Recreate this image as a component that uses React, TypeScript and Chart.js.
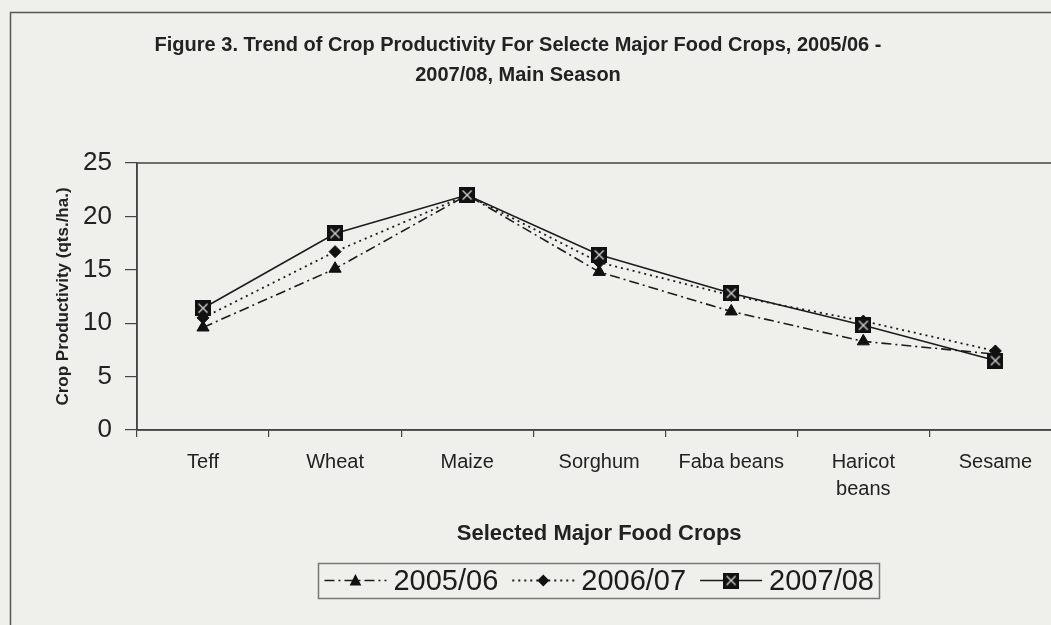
import React, { useEffect, useRef } from "react";
import { Chart, registerables } from "chart.js";

Chart.register(...registerables);

// ---------- data ----------
const categories: (string | string[])[] = [
  "Teff",
  "Wheat",
  "Maize",
  "Sorghum",
  "Faba beans",
  ["Haricot", "beans"],
  "Sesame",
];
const seriesLabels = ["2005/06", "2006/07", "2007/08"];
const values2005: number[] = [9.6, 15.1, 22.0, 14.8, 11.1, 8.3, 7.1];
const values2006: number[] = [10.5, 16.7, 22.0, 15.7, 12.6, 10.2, 7.4];
const values2007: number[] = [11.4, 18.4, 22.0, 16.4, 12.8, 9.8, 6.5];
const yMin = 0;
const yMax = 25;
const yStep = 5;
const titleLines = [
  "Figure 3. Trend of Crop Productivity For Selecte Major Food Crops, 2005/06 -",
  "2007/08, Main Season",
];
const xTitle = "Selected Major Food Crops";
const yTitle = "Crop Productivity (qts./ha.)";

// ---------- style ----------
const BG = "#efefeb";
const INK = "#1c1c1c";
const AXIS = "#444444";
const NARROW = "'Liberation Sans Narrow', 'Arial Narrow', 'Liberation Sans', Arial, sans-serif";
const REGULAR = "'Liberation Sans', Arial, sans-serif";
const CANVAS_W = 1106;
const CANVAS_H = 625;
const CANVAS_LEFT = -35;

function makeSquareX(size: number): HTMLCanvasElement {
  const c = document.createElement("canvas");
  c.width = size;
  c.height = size;
  const g = c.getContext("2d")!;
  g.fillStyle = "#111";
  g.fillRect(0, 0, size, size);
  g.strokeStyle = "#d0d0d0";
  g.lineWidth = 1.4;
  g.beginPath();
  g.moveTo(3.5, 3.5);
  g.lineTo(size - 3.5, size - 3.5);
  g.moveTo(size - 3.5, 3.5);
  g.lineTo(3.5, size - 3.5);
  g.stroke();
  return c;
}

function drawMarker(ctx: CanvasRenderingContext2D, kind: string, x: number, y: number, img?: HTMLCanvasElement) {
  ctx.save();
  ctx.fillStyle = "#111";
  ctx.setLineDash([]);
  if (kind === "triangle") {
    const r = 6.5;
    ctx.beginPath();
    ctx.moveTo(x, y - r);
    ctx.lineTo(x + r * 0.9, y + r * 0.75);
    ctx.lineTo(x - r * 0.9, y + r * 0.75);
    ctx.closePath();
    ctx.fill();
  } else if (kind === "rectRot") {
    const r = 6;
    ctx.beginPath();
    ctx.moveTo(x, y - r);
    ctx.lineTo(x + r, y);
    ctx.lineTo(x, y + r);
    ctx.lineTo(x - r, y);
    ctx.closePath();
    ctx.fill();
  } else if (img) {
    ctx.drawImage(img, x - img.width / 2, y - img.height / 2);
  }
  ctx.restore();
}

export default function App() {
  const canvasRef = useRef<HTMLCanvasElement | null>(null);

  useEffect(() => {
    const canvas = canvasRef.current;
    if (!canvas) return;
    const squareX = makeSquareX(16);
    const markerKinds = ["triangle", "rectRot", "image"];

    const decor = {
      id: "decor",
      beforeDraw(chart: any) {
        const { ctx, width, height } = chart;
        ctx.save();
        ctx.fillStyle = BG;
        ctx.fillRect(0, 0, width, height);
        ctx.strokeStyle = "#555";
        ctx.lineWidth = 1.5;
        ctx.strokeRect(10.5 - CANVAS_LEFT, 12.5, width + 200, height + 200);
        ctx.restore();
      },
      beforeDatasetsDraw(chart: any) {
        const { ctx, chartArea } = chart;
        ctx.save();
        ctx.strokeStyle = AXIS;
        ctx.lineWidth = 1.5;
        ctx.strokeRect(chartArea.left, chartArea.top, chartArea.right - chartArea.left + 40, chartArea.bottom - chartArea.top);
        ctx.restore();
      },
      afterDraw(chart: any) {
        const { ctx, chartArea } = chart;
        const ds = chart.data.datasets;
        ctx.save();
        ctx.font = `29px ${NARROW}`;
        ctx.textBaseline = "middle";
        ctx.textAlign = "left";
        const sampleW = 62;
        const gapST = 7;
        const itemGap = 14;
        const padX = 6;
        const widths = ds.map((d: any) => ctx.measureText(d.label).width);
        let total = padX * 2 + itemGap * (ds.length - 1);
        widths.forEach((w: number) => (total += sampleW + gapST + w));
        const cx = (chartArea.left + chartArea.right) / 2;
        const top = 563;
        const bottom = 598;
        const cy = (top + bottom) / 2;
        let x = cx - total / 2;
        ctx.strokeStyle = "#777";
        ctx.lineWidth = 1.5;
        ctx.strokeRect(Math.round(x) + 0.5, top + 0.5, Math.round(total), bottom - top);
        x += padX;
        ds.forEach((d: any, i: number) => {
          ctx.save();
          ctx.strokeStyle = d.borderColor;
          ctx.lineWidth = d.borderWidth;
          ctx.setLineDash(d.borderDash || []);
          ctx.beginPath();
          ctx.moveTo(x, cy);
          ctx.lineTo(x + sampleW, cy);
          ctx.stroke();
          ctx.restore();
          drawMarker(ctx, markerKinds[i], x + sampleW / 2, cy, squareX);
          x += sampleW + gapST;
          ctx.fillStyle = INK;
          ctx.fillText(d.label, x, cy + 1);
          x += widths[i] + itemGap;
        });
        ctx.restore();
      },
    };

    const chart = new Chart(canvas, {
      type: "line",
      data: {
        labels: categories as any,
        datasets: [
          {
            label: seriesLabels[0],
            data: values2005,
            borderColor: INK,
            borderWidth: 1.6,
            borderDash: [10, 4, 2, 4],
            pointStyle: "triangle",
            pointRadius: 7,
            pointBackgroundColor: "#111",
            pointBorderColor: "#111",
            pointBorderWidth: 1,
            tension: 0,
            fill: false,
            order: 3,
          },
          {
            label: seriesLabels[1],
            data: values2006,
            borderColor: INK,
            borderWidth: 1.8,
            borderDash: [2, 4],
            pointStyle: "rectRot",
            pointRadius: 6,
            pointBackgroundColor: "#111",
            pointBorderColor: "#111",
            pointBorderWidth: 1,
            tension: 0,
            fill: false,
            order: 2,
          },
          {
            label: seriesLabels[2],
            data: values2007,
            borderColor: INK,
            borderWidth: 1.6,
            pointStyle: squareX as any,
            pointRadius: 8,
            tension: 0,
            fill: false,
            order: 1,
          },
        ],
      },
      options: {
        responsive: false,
        animation: false,
        events: [],
        layout: { padding: { top: 0, left: 0, right: 0, bottom: 65 } },
        plugins: {
          legend: { display: false },
          tooltip: { enabled: false },
          title: {
            display: true,
            text: titleLines,
            color: "#222",
            font: { family: NARROW, size: 20, weight: "bold", lineHeight: 1.5 },
            padding: { top: 30, bottom: 73 },
          },
        },
        scales: {
          x: {
            type: "category",
            offset: true,
            afterFit: (scale: any) => {
              scale.height = 130;
            },
            grid: {
              display: true,
              offset: true,
              drawOnChartArea: false,
              drawTicks: true,
              tickLength: 7,
              color: AXIS,
              lineWidth: 1.2,
            },
            border: { display: true, color: AXIS, width: 1.5 },
            ticks: {
              color: "#222",
              font: { family: NARROW, size: 20, lineHeight: 1.35 },
              padding: 12,
              maxRotation: 0,
              autoSkip: false,
            },
            title: {
              display: true,
              text: xTitle,
              color: "#222",
              font: { family: NARROW, size: 22, weight: "bold", lineHeight: 1.2 },
              padding: { top: 0, bottom: 13 },
            },
          },
          y: {
            min: yMin,
            max: yMax,
            afterFit: (scale: any) => {
              scale.width = 137 - CANVAS_LEFT;
            },
            grid: {
              display: true,
              drawOnChartArea: false,
              drawTicks: true,
              tickLength: 12,
              color: AXIS,
              lineWidth: 1.2,
            },
            border: { display: true, color: AXIS, width: 1.5 },
            ticks: {
              stepSize: yStep,
              color: "#222",
              font: { family: REGULAR, size: 26 },
              padding: 13,
            },
            title: {
              display: true,
              text: yTitle,
              color: "#222",
              font: { family: NARROW, size: 17, weight: "bold", lineHeight: 1.2 },
              padding: { top: 63 - CANVAS_LEFT - 10, bottom: 0 },
            },
          },
        },
      },
      plugins: [decor],
    });

    return () => {
      chart.destroy();
    };
  }, []);

  return (
    <div
      style={{
        position: "fixed",
        left: 0,
        top: 0,
        width: 1051,
        height: 625,
        overflow: "hidden",
        background: BG,
      }}
    >
      <canvas
        ref={canvasRef}
        width={CANVAS_W}
        height={CANVAS_H}
        style={{ position: "absolute", left: CANVAS_LEFT, top: 0, width: CANVAS_W, height: CANVAS_H }}
      />
    </div>
  );
}
